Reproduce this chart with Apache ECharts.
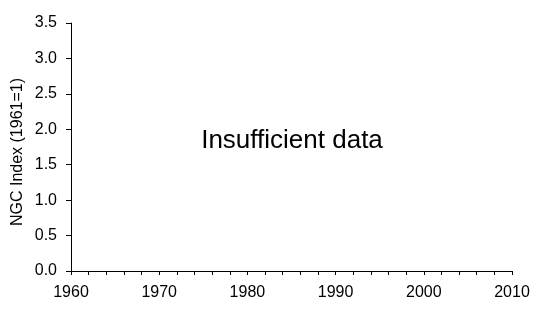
<!DOCTYPE html>
<html>
<head>
<meta charset="utf-8">
<script src="https://cdn.jsdelivr.net/npm/echarts@6/dist/echarts.min.js"></script>
<style>html,body{margin:0;padding:0;background:#fff;}#c{width:539px;height:321px;}</style>
</head>
<body>
<div id="c"></div>
<script>
var xMin = 1960, xMax = 2010, xStep = 2, xLabelStep = 10;
var yMin = 0, yMax = 3.5, yStep = 0.5;
var seriesValues = [];  // no data available
var yTitle = 'NGC Index (1961=1)';
var note = 'Insufficient data';

var chart = echarts.init(document.getElementById('c'));
var font = 'Arial, "Liberation Sans", sans-serif';
chart.setOption({
  animation: false,
  backgroundColor: '#fff',
  grid: {left: 71, right: 27, top: 23, bottom: 50, containLabel: false},
  xAxis: {
    type: 'value', min: xMin, max: xMax, interval: xStep,
    axisLine: {show: true, onZero: false, lineStyle: {color: '#000', width: 1}},
    axisTick: {show: true, length: 4, lineStyle: {color: '#000'}},
    splitLine: {show: false},
    axisLabel: {
      color: '#000', fontFamily: font, fontSize: 16, margin: 14,
      formatter: function (v) { return v % xLabelStep === 0 ? String(v) : ''; }
    }
  },
  yAxis: {
    type: 'value', min: yMin, max: yMax, interval: yStep,
    axisLine: {show: true, lineStyle: {color: '#000', width: 1}},
    axisTick: {show: true, length: 5, lineStyle: {color: '#000'}},
    splitLine: {show: false},
    axisLabel: {color: '#000', fontFamily: font, fontSize: 16, margin: 14,
      formatter: function (v) { return v.toFixed(1); }}
  },
  graphic: [
    {type: 'text', position: [18, 152], rotation: Math.PI / 2,
     style: {text: yTitle, fontFamily: font, fontSize: 16, fill: '#000', textAlign: 'center', textVerticalAlign: 'middle'}},
    {type: 'text', position: [292, 141],
     style: {text: note, fontFamily: font, fontSize: 26, fill: '#000', textAlign: 'center', textVerticalAlign: 'middle'}}
  ],
  series: [{type: 'line', data: seriesValues, symbol: 'none'}]
});
</script>
</body>
</html>
